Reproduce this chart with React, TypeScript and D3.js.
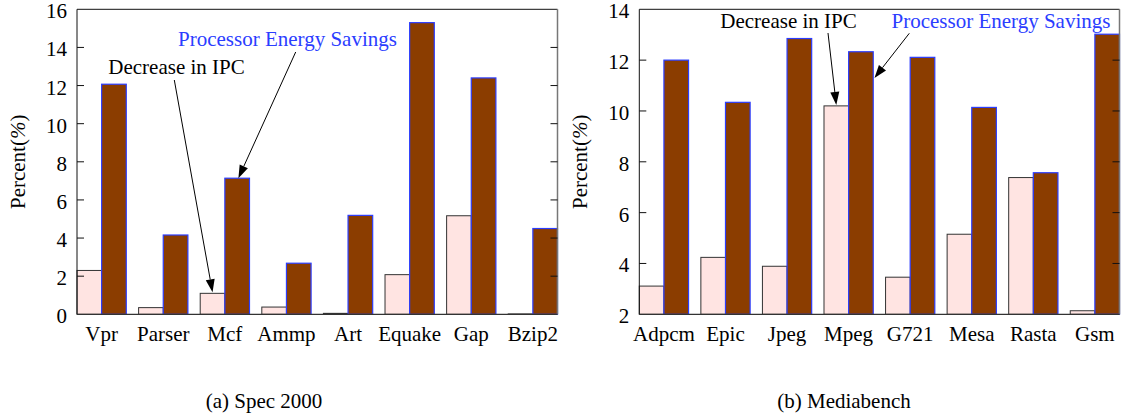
import React, { useEffect, useRef } from 'react'
import * as d3 from 'd3'

// Spec 2000 panel
const specNames = ['Vpr', 'Parser', 'Mcf', 'Ammp', 'Art', 'Equake', 'Gap', 'Bzip2']
const specIpc = [2.3, 0.35, 1.1, 0.38, 0.05, 2.08, 5.17, 0.02]
const specEnergy = [12.07, 4.16, 7.14, 2.68, 5.19, 15.3, 12.4, 4.5]
const specTicks = [0, 2, 4, 6, 8, 10, 12, 14, 16]

// Mediabench panel
const mediaNames = ['Adpcm', 'Epic', 'Jpeg', 'Mpeg', 'G721', 'Mesa', 'Rasta', 'Gsm']
const mediaIpc = [3.11, 4.24, 3.89, 10.2, 3.46, 5.15, 7.38, 2.14]
const mediaEnergy = [12.0, 10.34, 12.85, 12.33, 12.11, 10.14, 7.57, 13.02]
const mediaTicks = [2, 4, 6, 8, 10, 12, 14]

const FONT = '"Liberation Serif", "Times New Roman", serif'
const PINK = '#ffe4e2'
const BROWN = '#8b3d00'
const BLUE = '#2b3dff'

function arrow(g, x1, y1, x2, y2) {
    const ang = Math.atan2(y2 - y1, x2 - x1)
    const len = 13, hw = 4.5
    const bx = x2 - len * Math.cos(ang), by = y2 - len * Math.sin(ang)
    g.append('line')
        .attr('x1', x1).attr('y1', y1).attr('x2', bx).attr('y2', by)
        .attr('stroke', '#000').attr('stroke-width', 1)
    g.append('path')
        .attr('d', `M${x2},${y2}L${bx + hw * Math.sin(ang)},${by - hw * Math.cos(ang)}L${bx - hw * Math.sin(ang)},${by + hw * Math.cos(ang)}Z`)
        .attr('fill', '#000')
}

function drawPanel(svg, cfg) {
    const { names, ipc, energy, ticks, left, right, top, bottom, caption } = cfg
    const g = svg.append('g')

    const x = d3.scaleBand().domain(names).range([left, right]).paddingInner(0.2).paddingOuter(0)
    const y = d3.scaleLinear().domain([ticks[0], ticks[ticks.length - 1]]).range([bottom, top])
    const bw = x.bandwidth() / 2

    // bars
    g.selectAll('.ipc').data(names).enter().append('rect')
        .attr('x', d => x(d))
        .attr('y', (d, i) => y(ipc[i]))
        .attr('width', bw)
        .attr('height', (d, i) => bottom - y(ipc[i]))
        .attr('fill', PINK).attr('stroke', '#333').attr('stroke-width', 1)

    g.selectAll('.energy').data(names).enter().append('rect')
        .attr('x', d => x(d) + bw)
        .attr('y', (d, i) => y(energy[i]))
        .attr('width', bw)
        .attr('height', (d, i) => bottom - y(energy[i]))
        .attr('fill', BROWN).attr('stroke', BLUE).attr('stroke-width', 1.2)

    // frame
    g.append('line').attr('x1', left).attr('x2', right).attr('y1', top).attr('y2', top).attr('stroke', '#111')
    g.append('line').attr('x1', left).attr('x2', left).attr('y1', top).attr('y2', bottom).attr('stroke', '#111')
    g.append('line').attr('x1', right).attr('x2', right).attr('y1', top).attr('y2', bottom).attr('stroke', '#777').attr('stroke-width', 1.5)
    g.append('line').attr('x1', left).attr('x2', right).attr('y1', bottom).attr('y2', bottom).attr('stroke', '#333').attr('stroke-width', 1.2)

    // y ticks (inward on both sides)
    ticks.slice(1, -1).forEach(t => {
        g.append('line').attr('x1', left).attr('x2', left + 7).attr('y1', y(t)).attr('y2', y(t)).attr('stroke', '#111')
        g.append('line').attr('x1', right - 7).attr('x2', right).attr('y1', y(t)).attr('y2', y(t)).attr('stroke', '#111')
    })
    g.selectAll('.ytick').data(ticks).enter().append('text')
        .attr('x', left - 10).attr('y', d => y(d) + 9)
        .attr('text-anchor', 'end')
        .attr('font-family', FONT).attr('font-size', 21)
        .text(d => d)

    // x labels
    g.selectAll('.xlab').data(names).enter().append('text')
        .attr('x', d => x(d) + bw).attr('y', bottom + 27)
        .attr('text-anchor', 'middle')
        .attr('font-family', FONT).attr('font-size', 21)
        .text(d => d)

    // y title
    const yt = g.append('text')
        .attr('transform', `translate(${left - 52},${(top + bottom) / 2}) rotate(-90)`)
        .attr('text-anchor', 'middle')
        .attr('font-family', FONT).attr('font-size', 21)
    yt.append('tspan').text('Percent(')
    yt.append('tspan').attr('font-style', 'italic').text('%')
    yt.append('tspan').text(')')

    // caption
    g.append('text')
        .attr('x', caption.x).attr('y', 408)
        .attr('text-anchor', 'middle')
        .attr('font-family', FONT).attr('font-size', 21)
        .text(caption.text)

    // annotations
    const a = cfg.notes
    g.append('text').attr('x', a.ipcText[0]).attr('y', a.ipcText[1])
        .attr('text-anchor', 'middle').attr('font-family', FONT).attr('font-size', 21)
        .text('Decrease in IPC')
    g.append('text').attr('x', a.energyText[0]).attr('y', a.energyText[1])
        .attr('text-anchor', 'middle').attr('font-family', FONT).attr('font-size', 21)
        .attr('fill', BLUE)
        .text('Processor Energy Savings')

    const k = a.bar
    arrow(g, a.ipcFrom[0], a.ipcFrom[1], x(names[k]) + bw / 2, y(ipc[k]) - 1)
    arrow(g, a.energyFrom[0], a.energyFrom[1], x(names[k]) + bw + a.energyTip[0] * bw, y(a.energyTip[1]))
}

export default function App() {
    const ref = useRef(null)

    useEffect(() => {
        const svg = d3.select(ref.current)
        svg.selectAll('*').remove()

        drawPanel(svg, {
            names: specNames, ipc: specIpc, energy: specEnergy, ticks: specTicks,
            left: 77, right: 557.5, top: 9.3, bottom: 314.3,
            caption: { x: 264, text: '(a) Spec 2000' },
            notes: {
                bar: 2,
                ipcText: [176.5, 74], energyText: [287.5, 46],
                ipcFrom: [174.3, 80], energyFrom: [295.7, 52],
                energyTip: [0.55, 7.14]
            }
        })

        drawPanel(svg, {
            names: mediaNames, ipc: mediaIpc, energy: mediaEnergy, ticks: mediaTicks,
            left: 639.3, right: 1119.5, top: 9.3, bottom: 314.3,
            caption: { x: 844, text: '(b) Mediabench' },
            notes: {
                bar: 3,
                ipcText: [788.5, 28], energyText: [1001, 28],
                ipcFrom: [828, 33], energyFrom: [909.3, 33.3],
                energyTip: [1.05, 11.3]
            }
        })
    }, [])

    return (
        <svg ref={ref} width={1123} height={417}
            style={{ position: 'absolute', left: 0, top: 0, background: '#fff' }} />
    )
}
